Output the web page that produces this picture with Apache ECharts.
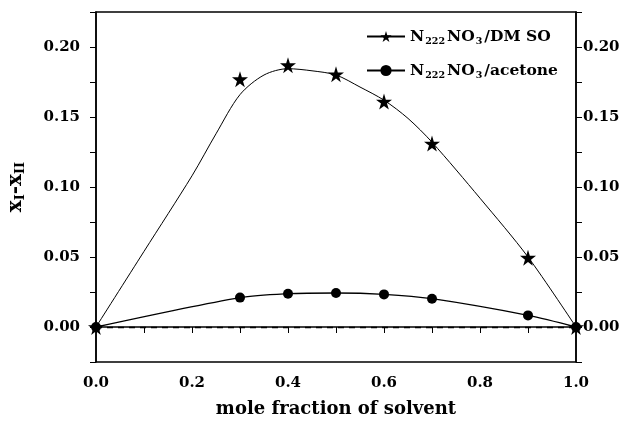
<!DOCTYPE html>
<html>
<head>
<meta charset="utf-8">
<script src="https://cdn.jsdelivr.net/npm/echarts@6/dist/echarts.min.js"></script>
<style>
  html, body { margin: 0; padding: 0; background: #fff; }
  #main { width: 623px; height: 427px; }
</style>
</head>
<body>
<div id="main"></div>
<script>
// measured points (stars / circles)
const moleFraction = [0, 0.3, 0.4, 0.5, 0.6, 0.7, 0.9, 1.0];
const dmsoValues = [0, 0.177, 0.187, 0.1805, 0.161, 0.131, 0.0495, 0];
const acetoneValues = [0, 0.021, 0.0238, 0.0243, 0.0233, 0.0202, 0.0083, 0];

// fitted curve for DMSO
const dmsoCurveX = [0, 0.1, 0.2, 0.25, 0.3, 0.35, 0.4, 0.45, 0.5, 0.55, 0.6, 0.65, 0.7, 0.8, 0.9, 1.0];
const dmsoCurveY = [0, 0.054, 0.108, 0.138, 0.166, 0.180, 0.1845, 0.183, 0.180, 0.1714, 0.162, 0.149, 0.132, 0.092, 0.050, 0];

const baselineY = -0.0026;

const FONT = 'DejaVu Serif';
const STAR = 'path://M50,0 L61,35 L98,35 L68,57 L79,91 L50,70 L21,91 L32,57 L2,35 L39,35 Z';

const chartDom = document.getElementById('main');
const myChart = echarts.init(chartDom);

function pairs(xs, ys) {
  return xs.map(function (x, i) { return [x, ys[i]]; });
}

function yLabel(val) {
  const k = Math.round(val / 0.025);
  if (k < 0 || k % 2 !== 0) return '';
  return val.toFixed(2);
}

const tickFont = {
  color: '#000',
  fontFamily: FONT,
  fontWeight: 'bold',
  fontSize: 15
};

const yAxisBase = {
  type: 'value',
  min: -0.025,
  max: 0.225,
  interval: 0.025,
  splitLine: { show: false },
  axisLine: { show: true, lineStyle: { color: '#000', width: 1.5 } },
  axisTick: { show: true, inside: false, length: 6, lineStyle: { color: '#000' } }
};

const option = {
  animation: false,
  grid: {
    left: 96,
    right: 47,
    top: 12,
    bottom: 65,
    containLabel: false,
    outerBoundsMode: 'none',
    show: true,
    borderColor: '#000',
    borderWidth: 1.5
  },
  legend: {
    orient: 'vertical',
    left: 361,
    top: 21,
    itemWidth: 38,
    itemHeight: 14,
    itemGap: 13,
    data: ['DMSO', 'acetone'],
    formatter: function (name) {
      return '{b|N}{s|222}{b|NO}{s|3}{b|/' + (name === 'DMSO' ? 'DM SO' : 'acetone') + '}';
    },
    textStyle: {
      color: '#000',
      fontFamily: FONT,
      fontWeight: 'bold',
      rich: {
        b: { fontSize: 15.5, fontFamily: FONT, fontWeight: 'bold', lineHeight: 22, color: '#000' },
        s: { fontSize: 9.5, fontFamily: FONT, fontWeight: 'bold', lineHeight: 12, padding: [11, 2, 0, 1], color: '#000' }
      }
    }
  },
  xAxis: {
    type: 'value',
    min: 0,
    max: 1,
    interval: 0.1,
    name: 'mole fraction of solvent',
    nameLocation: 'middle',
    nameGap: 38,
    nameTextStyle: {
      color: '#000',
      fontFamily: FONT,
      fontWeight: 'bold',
      fontSize: 18
    },
    splitLine: { show: false },
    axisLine: { show: true, lineStyle: { color: '#000', width: 1.5 } },
    axisTick: { show: true, inside: false, length: 6, lineStyle: { color: '#000' } },
    axisLabel: Object.assign({}, tickFont, {
      margin: 14,
      formatter: function (val) {
        const k = Math.round(val * 10);
        return k % 2 === 0 ? val.toFixed(1) : '';
      }
    })
  },
  yAxis: [
    Object.assign({}, yAxisBase, {
      position: 'left',
      name: '{x|x}{s|I}{x|-x}{s|II}',
      nameLocation: 'middle',
      nameRotate: 90,
      nameGap: 68,
      nameTextStyle: {
        color: '#000',
        rich: {
          x: { fontSize: 20, fontFamily: FONT, fontWeight: 'bold', lineHeight: 24, color: '#000' },
          s: { fontSize: 13, fontFamily: FONT, fontWeight: 'bold', lineHeight: 14, padding: [10, 0, 0, 0], color: '#000' }
        }
      },
      axisLabel: Object.assign({}, tickFont, { margin: 16, formatter: yLabel })
    }),
    Object.assign({}, yAxisBase, {
      position: 'right',
      axisLabel: Object.assign({}, tickFont, { margin: 7, formatter: yLabel })
    })
  ],
  series: [
    {
      name: 'DMSO',
      type: 'line',
      data: pairs(dmsoCurveX, dmsoCurveY),
      smooth: 0.3,
      symbol: STAR,
      symbolSize: 14,
      showSymbol: false,
      itemStyle: { color: '#000' },
      lineStyle: { color: '#000', width: 1 },
      z: 2
    },
    {
      name: 'DMSO',
      type: 'scatter',
      data: pairs(moleFraction, dmsoValues),
      symbol: STAR,
      symbolSize: 16,
      itemStyle: { color: '#000', opacity: 1 },
      z: 3
    },
    {
      name: 'acetone',
      type: 'line',
      data: pairs(moleFraction, acetoneValues),
      smooth: 0.3,
      symbol: 'circle',
      symbolSize: 10,
      showSymbol: true,
      itemStyle: { color: '#000' },
      lineStyle: { color: '#000', width: 1.3 },
      markLine: {
        silent: true,
        symbol: 'none',
        label: { show: false },
        lineStyle: { color: '#000', type: [6, 5], width: 1.3, opacity: 1 },
        data: [{ yAxis: baselineY }]
      },
      z: 3
    }
  ]
};

option && myChart.setOption(option);
</script>
</body>
</html>
